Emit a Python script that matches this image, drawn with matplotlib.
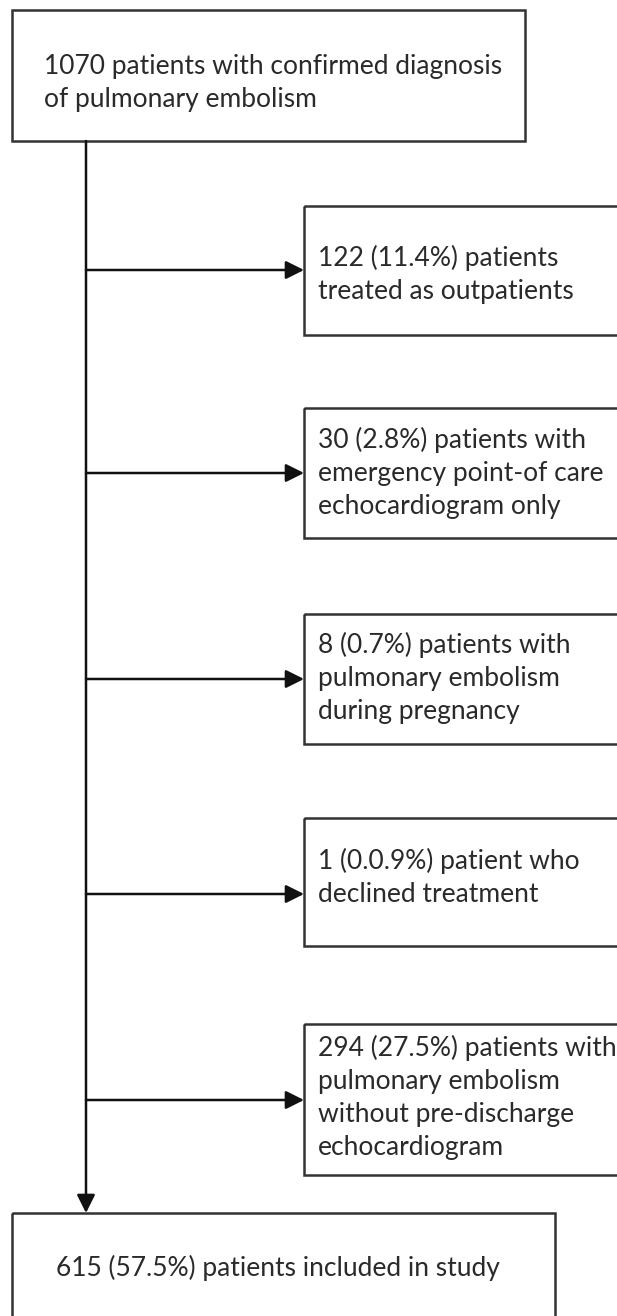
import matplotlib.pyplot as plt
from matplotlib.patches import Rectangle

plt.rcParams['font.family'] = ['Lato', 'DejaVu Sans']

top_text = "1070 patients with confirmed diagnosis\nof pulmonary embolism"
excluded = [
    "122 (11.4%) patients\ntreated as outpatients",
    "30 (2.8%) patients with\nemergency point-of care\nechocardiogram only",
    "8 (0.7%) patients with\npulmonary embolism\nduring pregnancy",
    "1 (0.0.9%) patient who\ndeclined treatment",
    "294 (27.5%) patients with\npulmonary embolism\nwithout pre-discharge\nechocardiogram",
]
final_text = "615 (57.5%) patients included in study"

# layout in pixels: (box top, box bottom, arrow y, text centre y)
side_boxes = [(206, 335, 270, 274), (408, 538, 473, 473), (614, 744, 679, 678),
              (818, 946, 894, 877), (1024, 1175, 1100, 1097)]

W, H = 617, 1316
fig = plt.figure(figsize=(W / 100, H / 100), dpi=100)
ax = fig.add_axes([0, 0, 1, 1])
ax.set_xlim(0, W)
ax.set_ylim(H, 0)
ax.axis('off')

edge = '#333333'
txt_col = '#2a2a2a'
lw = 1.8
fs = 19
arrow = dict(arrowstyle='-|>,head_length=0.5,head_width=0.25', color='#111111',
             lw=lw, mutation_scale=22, shrinkA=0, shrinkB=0)

# top box
ax.add_patch(Rectangle((12, 10), 513, 131, fill=False, ec=edge, lw=lw))
ax.text(44, 83, top_text, fontsize=fs, va='center', ha='left',
        linespacing=1.4, color=txt_col)

# main vertical line with arrow to final box
spine_x = 86
ax.annotate('', xy=(spine_x, 1213), xytext=(spine_x, 141), arrowprops=arrow)

for (t, b, ay, ty), txt in zip(side_boxes, excluded):
    ax.add_patch(Rectangle((304, t), 400, b - t, fill=False, ec=edge, lw=lw))
    ax.annotate('', xy=(304, ay), xytext=(spine_x, ay), arrowprops=arrow)
    ax.text(318, ty, txt, fontsize=fs, va='center', ha='left',
            linespacing=1.4, color=txt_col)

# final box
ax.add_patch(Rectangle((12, 1213), 543, 160, fill=False, ec=edge, lw=lw))
ax.text(278, 1268, final_text, fontsize=fs, va='center', ha='center',
        color=txt_col)

fig.savefig('out.png', dpi=100)
